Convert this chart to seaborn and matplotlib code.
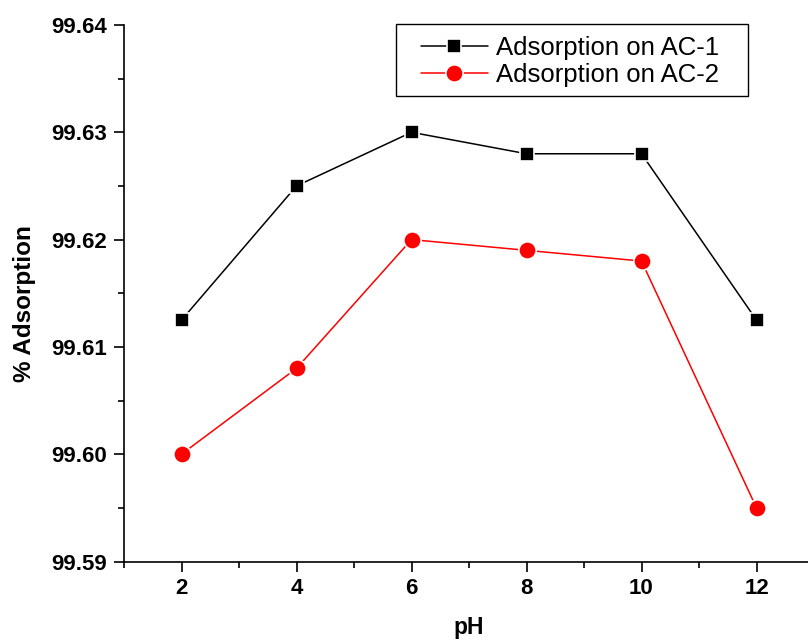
import matplotlib
matplotlib.use("Agg")
import matplotlib.pyplot as plt
from matplotlib.ticker import MultipleLocator, FormatStrFormatter
from matplotlib.patches import Rectangle
import seaborn as sns
import pandas as pd

ph = [2, 4, 6, 8, 10, 12]
ac1 = [99.6125, 99.625, 99.630, 99.628, 99.628, 99.6125]
ac2 = [99.600, 99.608, 99.620, 99.619, 99.618, 99.595]
labels = ["Adsorption on AC-1", "Adsorption on AC-2"]

sns.set_theme(style="ticks")
plt.rcParams["font.family"] = ["Liberation Sans", "DejaVu Sans"]
plt.rcParams["text.color"] = "black"
plt.rcParams["axes.labelcolor"] = "black"
plt.rcParams["xtick.color"] = "black"
plt.rcParams["ytick.color"] = "black"

W, H = 808, 639
fig = plt.figure(figsize=(W / 100, H / 100), dpi=100)
ax = fig.add_axes([124 / W, 1 - 561.5 / H, 690 / W, (561.5 - 25) / H])

df1 = pd.DataFrame({"pH": ph, "val": ac1})
df2 = pd.DataFrame({"pH": ph, "val": ac2})
sns.lineplot(data=df1, x="pH", y="val", ax=ax, color="black", lw=1.1,
             marker="s", markersize=10.5, markerfacecolor="black",
             markeredgecolor="white", markeredgewidth=1.2, label=labels[0])
sns.lineplot(data=df2, x="pH", y="val", ax=ax, color="red", lw=1.1,
             marker="o", markersize=12.5, markerfacecolor="red",
             markeredgecolor="white", markeredgewidth=1.2, label=labels[1])

ax.set_xlim(1, 13)
ax.set_ylim(99.59, 99.64)
ax.xaxis.set_major_locator(MultipleLocator(2))
ax.xaxis.set_minor_locator(MultipleLocator(1))
ax.yaxis.set_major_locator(MultipleLocator(0.01))
ax.yaxis.set_minor_locator(MultipleLocator(0.005))
ax.yaxis.set_major_formatter(FormatStrFormatter("%.2f"))

for s in ["top", "right"]:
    ax.spines[s].set_visible(False)
for s in ["left", "bottom"]:
    ax.spines[s].set_linewidth(1.2)
    ax.spines[s].set_color("black")

ax.tick_params(which="major", direction="out", length=7, width=1.2, color="black",
               labelsize=16, pad=5, labelcolor="black")
ax.tick_params(which="minor", direction="out", length=4, width=1.2, color="black")
for t in ax.get_xticklabels() + ax.get_yticklabels():
    t.set_fontweight("bold")

ax.set_xlabel("pH", fontsize=16.5, fontweight="bold", labelpad=12, color="black")
ax.set_ylabel("% Adsorption", fontsize=17.5, fontweight="bold", color="black")
ax.yaxis.set_label_coords(-0.127, 0.48)

leg = ax.legend(loc="upper left", bbox_to_anchor=(421 / W, 1 - 36 / H),
                bbox_transform=fig.transFigure, borderaxespad=0, fontsize=18.5,
                frameon=False, handlelength=2.6, handletextpad=0.3,
                labelspacing=0.12, borderpad=0)
for t in leg.get_texts():
    t.set_color("black")

fig.patches.append(Rectangle((396 / W, 1 - 96 / H), 352 / W, 72 / H,
                             transform=fig.transFigure, fill=False,
                             edgecolor="black", linewidth=1.0, zorder=5))

fig.savefig("out.png", dpi=100)
